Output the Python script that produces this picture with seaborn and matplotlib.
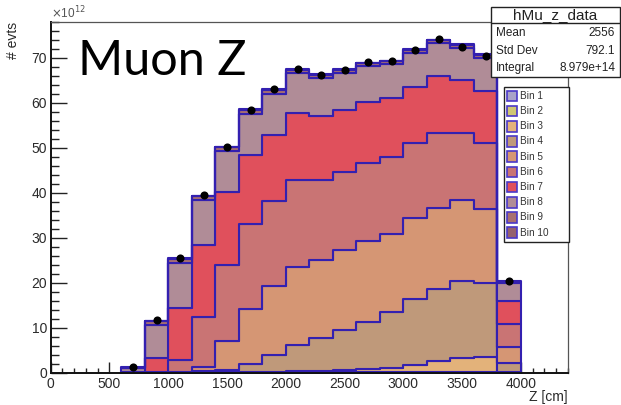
import numpy as np
import pandas as pd
import matplotlib
matplotlib.use("Agg")
import matplotlib.pyplot as plt
from matplotlib.patches import Rectangle
from matplotlib.lines import Line2D
from matplotlib.ticker import MultipleLocator
import seaborn as sns

# ---- data (counts in units of 1e12 per 200 cm bin) ----
bin_edges = [600, 800, 1000, 1200, 1400, 1600, 1800, 2000, 2200, 2400,
             2600, 2800, 3000, 3200, 3400, 3600, 3800, 4000]
bin_centers = [700, 900, 1100, 1300, 1500, 1700, 1900, 2100, 2300, 2500,
               2700, 2900, 3100, 3300, 3500, 3700, 3900]

layer_names = ["Bin 1", "Bin 2", "Bin 3", "Bin 4", "Bin 5",
               "Bin 6", "Bin 7", "Bin 8", "Bin 9", "Bin 10"]

bin1 = [0, 0, 0, 0.01, 0.03, 0.05, 0.06, 0.07, 0.09, 0.09, 0.1, 0.12, 0.12, 0.12, 0.12, 0.12, 0.03]
bin2 = [0, 0, 0, 0.01, 0.02, 0.03, 0.04, 0.05, 0.06, 0.06, 0.08, 0.08, 0.08, 0.08, 0.08, 0.08, 0.02]
bin3 = [0, 0, 0.02, 0.06, 0.1, 0.12, 0.15, 0.23, 0.3, 0.35, 0.57, 0.8, 1.5, 2.3, 3.0, 3.4, 0.1]
bin4 = [0, 0, 0.03, 0.32, 0.45, 1.7, 3.65, 5.75, 7.35, 9.1, 10.45, 12.4, 14.8, 16.1, 17.2, 16.4, 2.05]
bin5 = [0, 0.02, 0.15, 0.9, 6.5, 12.2, 15.3, 17.4, 17.3, 17.6, 18.0, 17.4, 18.0, 18.1, 18.0, 16.3, 3.6]
bin6 = [0, 0.13, 2.7, 11.0, 16.8, 18.9, 18.9, 19.3, 17.8, 17.4, 17.4, 17.2, 16.6, 16.6, 14.9, 14.8, 5.1]
bin7 = [0.05, 3.15, 11.6, 16.2, 16.3, 15.5, 14.8, 14.9, 14.1, 13.8, 13.5, 13.0, 12.5, 12.6, 11.7, 11.5, 5.1]
bin8 = [0.95, 7.4, 10.0, 10.0, 9.1, 9.1, 9.1, 9.0, 8.6, 8.3, 8.1, 7.7, 7.5, 7.4, 7.3, 7.5, 3.9]
bin9 = [0.15, 0.8, 0.8, 0.7, 0.8, 0.8, 0.8, 0.6, 0.6, 0.6, 0.6, 0.6, 0.6, 0.6, 0.6, 0.5, 0.3]
bin10 = [0.05, 0.1, 0.2, 0.2, 0.2, 0.2, 0.2, 0.2, 0.2, 0.2, 0.1, 0.1, 0.2, 0.2, 0.1, 0.2, 0.1]
layers = [bin1, bin2, bin3, bin4, bin5, bin6, bin7, bin8, bin9, bin10]

data_counts = [1.3, 11.8, 25.6, 39.5, 50.2, 58.4, 63.0, 67.6, 66.3, 67.4,
               69.0, 69.4, 71.8, 74.3, 72.5, 70.5, 20.4]

layer_colors = ["#a9a2c8", "#cfc674", "#e3b27a", "#bf997a", "#d59674",
                "#c97474", "#e0505c", "#b08c97", "#a87070", "#95626e"]

stats_title = "hMu_z_data"
stats_rows = [("Mean", "2556"), ("Std Dev", "792.1"), ("Integral", "8.979e+14")]

# ---- figure ----
W, H = 621, 405
sns.set_style("ticks")
plt.rcParams["font.family"] = ["Liberation Sans", "DejaVu Sans"]

fig = plt.figure(figsize=(W / 100, H / 100), dpi=100)
fig.patch.set_facecolor("white")


def fx(x):
    return x / W


def fy(y):
    return 1 - y / H


ax = fig.add_axes([fx(50.7), fy(372.7), fx(568) - fx(50.7), fy(22) - fy(372.7)])

rows = []
for name, vals in zip(layer_names, layers):
    for c, v in zip(bin_centers, vals):
        rows.append({"z": c, "n": v, "layer": name})
df = pd.DataFrame(rows)

# stacked histogram: Bin 1 at the bottom, Bin 10 on top
edge_blue = "#3320b0"
sns.histplot(data=df, x="z", weights="n", hue="layer",
             hue_order=layer_names[::-1],
             palette=dict(zip(layer_names, layer_colors)),
             multiple="stack", bins=bin_edges, element="step", fill=True,
             alpha=1, edgecolor=edge_blue, linewidth=1.5, legend=False, ax=ax)

# measured data points
sns.scatterplot(x=bin_centers, y=data_counts, color="black", s=34,
                linewidth=0, zorder=6, ax=ax)

ax.set_xlim(0, 4400)
ax.set_ylim(0, 78)
ax.set_xlabel("")
ax.set_ylabel("")
ax.xaxis.set_major_locator(MultipleLocator(500))
ax.xaxis.set_minor_locator(MultipleLocator(100))
ax.yaxis.set_major_locator(MultipleLocator(10))
ax.yaxis.set_minor_locator(MultipleLocator(2))
ax.tick_params(axis="both", which="both", direction="in", top=False, right=False,
               color="#222222", labelcolor="#2a2a2a", labelsize=10)
ax.tick_params(axis="y", which="major", length=11.5, width=1.0, pad=2.5)
ax.tick_params(axis="y", which="minor", length=5.8, width=1.0)
ax.tick_params(axis="x", which="major", length=7.6, width=1.0, pad=3)
ax.tick_params(axis="x", which="minor", length=3.8, width=1.0)
for side in ("left", "bottom"):
    ax.spines[side].set_linewidth(1.4)
    ax.spines[side].set_color("#111111")
for side in ("top", "right"):
    ax.spines[side].set_visible(True)
    ax.spines[side].set_linewidth(0.9)
    ax.spines[side].set_color("#555555")

# axis titles and exponent
fig.text(fx(568), fy(397), "Z [cm]", ha="right", va="center", fontsize=10, color="#2a2a2a")
fig.text(fx(13), fy(22), "# evts", ha="center", va="top", rotation=90, fontsize=10, color="#2a2a2a")
fig.text(fx(51), fy(13), r"$\times$10$^{12}$", ha="left", va="center", fontsize=8.5, color="#555555")

# big label
fig.text(fx(78), fy(75), "Muon Z", ha="left", va="baseline", fontsize=35,
         family=["Lato", "DejaVu Sans"], color="black")

# statistics box
x0, y0, x1, y1 = 491, 7, 620, 77
fig.patches.append(Rectangle((fx(x0), fy(y1)), fx(x1) - fx(x0), fy(y0) - fy(y1),
                             transform=fig.transFigure, facecolor="white",
                             edgecolor="#222222", linewidth=1.0, zorder=10))
fig.lines.append(Line2D([fx(x0), fx(x1)], [fy(23.3), fy(23.3)], transform=fig.transFigure,
                        color="#222222", linewidth=1.0, zorder=11))
fig.text(fx(555.5), fy(15), stats_title, ha="center", va="center", fontsize=11,
         color="#222222", zorder=12)
for i, (k, v) in enumerate(stats_rows):
    yy = 33.5 + i * 17.2
    fig.text(fx(496), fy(yy), k, ha="left", va="center", fontsize=8.5, color="#222222", zorder=12)
    fig.text(fx(615), fy(yy), v, ha="right", va="center", fontsize=8.5, color="#222222", zorder=12)

# legend box
lx0, ly0, lx1, ly1 = 503.5, 87, 568.5, 242
fig.patches.append(Rectangle((fx(lx0), fy(ly1)), fx(lx1) - fx(lx0), fy(ly0) - fy(ly1),
                             transform=fig.transFigure, facecolor="white",
                             edgecolor="#222222", linewidth=1.0, zorder=10))
for i, (name, col) in enumerate(zip(layer_names, layer_colors)):
    yc = 95.8 + i * 15.2
    fig.patches.append(Rectangle((fx(506.5), fy(yc + 5.3)), fx(516.5) - fx(506.5),
                                 fy(yc - 5.3) - fy(yc + 5.3), transform=fig.transFigure,
                                 facecolor=col, edgecolor="#4a38c8", linewidth=1.2, zorder=11))
    fig.text(fx(519.5), fy(yc), name, ha="left", va="center", fontsize=7.2,
             color="#333333", zorder=12)

fig.savefig("out.png", dpi=100, facecolor="white")
